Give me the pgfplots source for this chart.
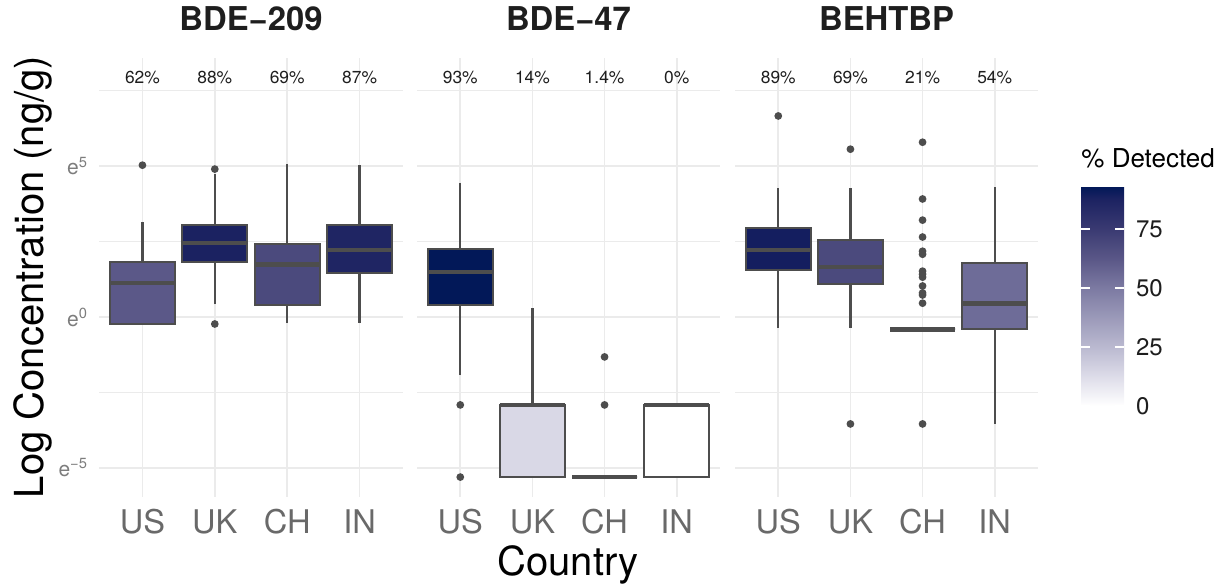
\documentclass[border=0pt]{standalone}
\usepackage{fontspec}
\setmainfont{TeX Gyre Heros}
\usepackage{pgfplots}
\pgfplotsset{compat=1.18}
\usepgfplotslibrary{statistics}

\definecolor{boxgray}{RGB}{77,77,77}
\definecolor{gridc}{RGB}{235,235,235}
\definecolor{tickc}{RGB}{105,105,105}
\definecolor{ytc}{RGB}{125,125,125}
\definecolor{titc}{RGB}{30,30,30}
\definecolor{c93}{RGB}{2,24,88}
\definecolor{c89}{RGB}{20,30,95}
\definecolor{c88}{RGB}{27,34,97}
\definecolor{c87}{RGB}{31,37,99}
\definecolor{c75}{RGB}{58,58,114}
\definecolor{c69}{RGB}{75,74,125}
\definecolor{c62}{RGB}{91,88,136}
\definecolor{c54}{RGB}{110,108,152}
\definecolor{c50}{RGB}{124,122,162}
\definecolor{c25}{RGB}{186,185,208}
\definecolor{c21}{RGB}{198,197,217}
\definecolor{c14}{RGB}{217,216,230}
\definecolor{c1}{RGB}{252,252,253}
\definecolor{c0}{RGB}{255,255,255}

% vertical shading for the colour bar (0..92.8 mapped to 25bp..75bp)
\pgfdeclareverticalshading{detshade}{100bp}{%
 color(0bp)=(c0); color(25bp)=(c0); color(32.54bp)=(c14); color(38.47bp)=(c25);
 color(51.94bp)=(c50); color(58.41bp)=(c62); color(65.41bp)=(c75);
 color(72.41bp)=(c88); color(75bp)=(c93); color(100bp)=(c93)}

\tikzset{pct/.style={anchor=base, font=\fontsize{8.7}{10}\selectfont, text=titc}}

\pgfplotsset{
 panel/.style={
  scale only axis, anchor=south west, height=219.5pt,
  xmin=0.4, xmax=4.6, ymin=-5.96, ymax=8.58,
  xtick={1,2,3,4}, xticklabels={US,UK,CH,IN},
  ytick={-5,0,5}, minor ytick={-2.5,2.5,7.5},
  grid=both,
  major grid style={gridc, line width=0.9pt},
  minor grid style={gridc, line width=0.7pt},
  axis line style={draw=none}, tick style={draw=none},
  xticklabel style={font=\fontsize{16.3}{19}\selectfont, text=tickc, anchor=base, yshift=-18pt},
  title style={font=\bfseries\fontsize{16.4}{19}\selectfont, text=titc, at={(0.5,1)}, anchor=base, yshift=7.5pt},
  boxplot/draw direction=y,
  boxplot/every median/.style={line width=2.4pt},
  boxplot/box extend=0.9, boxplot/whisker extend=0,
  clip=false,
 },
 bx/.style={boxplot prepared={#1}, draw=boxgray, line width=1.1pt, mark=*, mark size=1.35pt,
   mark options={draw=none, fill=boxgray}},
}

\begin{document}
\begin{tikzpicture}

% ---------------- BDE-209 ----------------
\begin{axis}[panel, at={(49.5pt,-248.5pt)}, width=152pt, title={BDE−209},
  yticklabels={e\textsuperscript{−5},e\textsuperscript{0},e\textsuperscript{5}},
  yticklabel style={font=\fontsize{10.5}{12}\selectfont, text=ytc, anchor=east, xshift=-2pt}]
\addplot[bx={draw position=1, lower whisker=-0.23, lower quartile=-0.23, median=1.13, upper quartile=1.82, upper whisker=3.15}, fill=c62]
  table[row sep=\\, y index=0] {y\\ 5.03\\};
\addplot[bx={draw position=2, lower whisker=0.43, lower quartile=1.82, median=2.45, upper quartile=3.05, upper whisker=4.74}, fill=c88]
  table[row sep=\\, y index=0] {y\\ 4.90\\ -0.23\\};
\addplot[bx={draw position=3, lower whisker=-0.20, lower quartile=0.40, median=1.75, upper quartile=2.42, upper whisker=5.07}, fill=c69]
  coordinates {};
\addplot[bx={draw position=4, lower whisker=-0.20, lower quartile=1.46, median=2.22, upper quartile=3.05, upper whisker=5.03}, fill=c87]
  coordinates {};
\node[pct] at (axis cs:1,7.75) {62\%};
\node[pct] at (axis cs:2,7.75) {88\%};
\node[pct] at (axis cs:3,7.75) {69\%};
\node[pct] at (axis cs:4,7.75) {87\%};
\end{axis}

% ---------------- BDE-47 ----------------
\begin{axis}[panel, at={(208.5pt,-248.5pt)}, width=151.5pt, title={BDE−47},
  yticklabels={,,}]
\addplot[bx={draw position=1, lower whisker=-1.92, lower quartile=0.40, median=1.49, upper quartile=2.25, upper whisker=4.44}, fill=c93]
  table[row sep=\\, y index=0] {y\\ -2.91\\ -5.30\\};
\addplot[bx={draw position=2, lower whisker=-5.30, lower quartile=-5.30, median=-2.91, upper quartile=-2.91, upper whisker=0.30}, fill=c14]
  coordinates {};
\addplot[bx={draw position=3, lower whisker=-5.30, lower quartile=-5.30, median=-5.30, upper quartile=-5.30, upper whisker=-5.30}, fill=c1]
  table[row sep=\\, y index=0] {y\\ -1.32\\ -2.91\\};
\addplot[bx={draw position=4, lower whisker=-5.30, lower quartile=-5.30, median=-2.91, upper quartile=-2.91, upper whisker=-2.91}, fill=c0]
  coordinates {};
\node[pct] at (axis cs:1,7.75) {93\%};
\node[pct] at (axis cs:2,7.75) {14\%};
\node[pct] at (axis cs:3,7.75) {1.4\%};
\node[pct] at (axis cs:4,7.75) {0\%};
\end{axis}

% ---------------- BEHTBP ----------------
\begin{axis}[panel, at={(367.5pt,-248.5pt)}, width=151.5pt, title={BEHTBP},
  yticklabels={,,}]
\addplot[bx={draw position=1, lower whisker=-0.36, lower quartile=1.56, median=2.22, upper quartile=2.95, upper whisker=4.27}, fill=c89]
  table[row sep=\\, y index=0] {y\\ 6.66\\};
\addplot[bx={draw position=2, lower whisker=-0.36, lower quartile=1.09, median=1.66, upper quartile=2.55, upper whisker=4.27}, fill=c69]
  table[row sep=\\, y index=0] {y\\ 5.56\\ -3.54\\};
\addplot[bx={draw position=3, lower whisker=-0.40, lower quartile=-0.40, median=-0.40, upper quartile=-0.40, upper whisker=-0.40}, fill=c21]
  table[row sep=\\, y index=0] {y\\ 5.79\\ 3.91\\ 3.21\\ 2.65\\ 2.18\\ 2.08\\ 1.52\\ 1.42\\ 1.32\\ 1.03\\ 0.80\\ 0.73\\ 0.46\\ -3.54\\};
\addplot[bx={draw position=4, lower whisker=-3.54, lower quartile=-0.40, median=0.46, upper quartile=1.79, upper whisker=4.30}, fill=c54]
  coordinates {};
\node[pct] at (axis cs:1,7.75) {89\%};
\node[pct] at (axis cs:2,7.75) {69\%};
\node[pct] at (axis cs:3,7.75) {21\%};
\node[pct] at (axis cs:4,7.75) {54\%};
\end{axis}

% ---------------- colour bar ----------------
\begin{axis}[at={(540.5pt,-203pt)}, anchor=south west, scale only axis,
  width=21.5pt, height=109.5pt, xmin=0, xmax=1, ymin=0, ymax=92.8,
  xtick=\empty, ytick={0,25,50,75}, ytick pos=both, yticklabel pos=right,
  axis line style={draw=none}, tick style={draw=white, line width=0.7pt},
  major tick length=4.5pt, axis on top,
  yticklabel style={font=\fontsize{12}{14}\selectfont, text=titc, anchor=west, xshift=2.5pt},
  /pgf/number format/assume math mode=true]
\shade[shading=detshade] (axis cs:0,0) rectangle (axis cs:1,92.8);
\end{axis}

\node[anchor=base west, inner sep=0pt, font=\fontsize{13}{15}\selectfont, text=black] at (540.5pt,-83.5pt) {\% Detected};

% axis titles
\node[rotate=90, anchor=base, font=\fontsize{20}{24}\selectfont] at (21.5pt,-138.5pt) {Log Concentration (ng/g)};
\node[anchor=base, font=\fontsize{20}{24}\selectfont] at (284pt,-287.5pt) {Country};

\pgfresetboundingbox
\path[use as bounding box] (0,0) rectangle (613.5pt,-292pt);
\end{tikzpicture}
\end{document}
